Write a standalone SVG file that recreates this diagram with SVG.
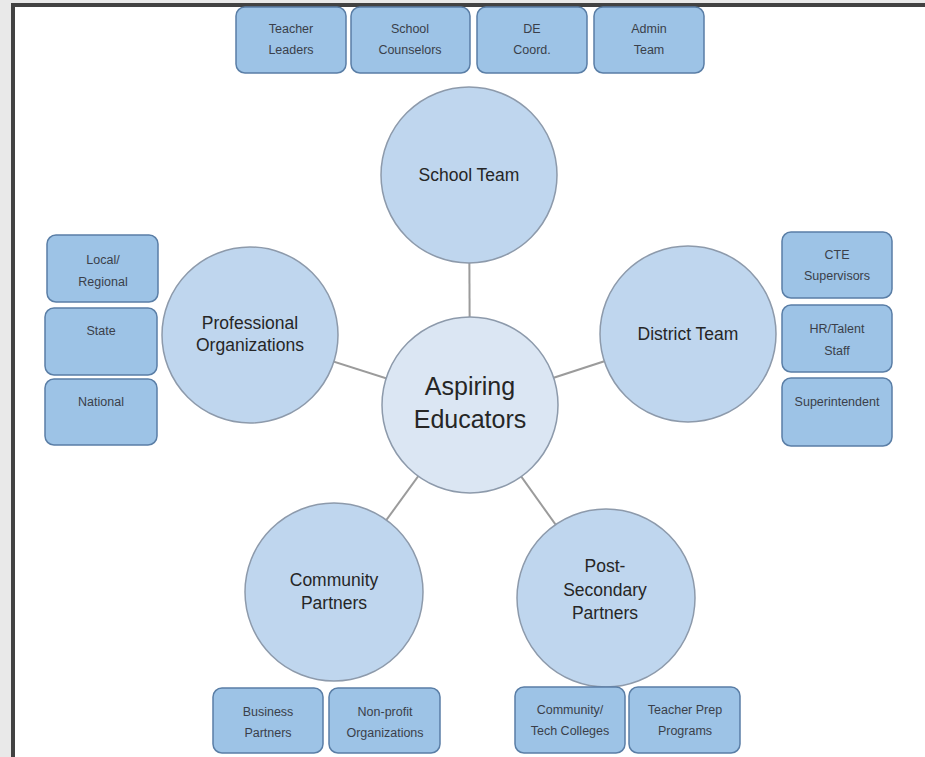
<svg xmlns="http://www.w3.org/2000/svg" width="925" height="757" viewBox="0 0 925 757">
<style>
.big{fill:#bfd6ee;stroke:#8d9aab;stroke-width:1.5}
.core{fill:#dbe6f3;stroke:#8d9aab;stroke-width:1.5}
.box{fill:#9dc3e6;stroke:#5a7ea6;stroke-width:1.5}
.lbl{font-family:"Liberation Sans","Open Sans",sans-serif;fill:#262626;text-anchor:middle}
.c{font-size:17.5px}
.s{font-size:12.5px;fill:#3a3f4a}
.con line{stroke:#9b9b9b;stroke-width:2}
</style>
<rect x="0" y="0" width="925" height="757" fill="#e9e9e9"/>
<rect x="13" y="5" width="930" height="770" fill="#ffffff" stroke="#424242" stroke-width="4"/>
<g id="connectors" class="con">
<line x1="470" y1="405" x2="469" y2="175"/>
<line x1="470" y1="405" x2="250" y2="335"/>
<line x1="470" y1="405" x2="688" y2="334"/>
<line x1="470" y1="405" x2="334" y2="592"/>
<line x1="470" y1="405" x2="606" y2="595"/>
</g>
<g id="center"><circle class="core" cx="470" cy="405" r="88"/>
<text class="lbl" x="470" y="395" font-size="25">Aspiring</text>
<text class="lbl" x="470" y="428" font-size="25">Educators</text></g>
<g id="school-team"><circle class="big" cx="469" cy="175" r="88"/>
<text class="lbl c" x="469" y="181">School Team</text></g>
<g id="professional"><circle class="big" cx="250" cy="335" r="88"/>
<text class="lbl c" x="250" y="329">Professional</text>
<text class="lbl c" x="250" y="351">Organizations</text></g>
<g id="district"><circle class="big" cx="688" cy="334" r="88"/>
<text class="lbl c" x="688" y="340">District Team</text></g>
<g id="community"><circle class="big" cx="334" cy="592" r="89"/>
<text class="lbl c" x="334" y="586">Community</text>
<text class="lbl c" x="334" y="609">Partners</text></g>
<g id="postsecondary"><circle class="big" cx="606" cy="598" r="89"/>
<text class="lbl c" x="605" y="572">Post-</text>
<text class="lbl c" x="605" y="596">Secondary</text>
<text class="lbl c" x="605" y="619">Partners</text></g>
<g id="teacher-leaders"><rect class="box" x="236" y="7" width="110" height="66" rx="9"/>
<text class="lbl s" x="291" y="33">Teacher</text><text class="lbl s" x="291" y="54">Leaders</text></g>
<g id="school-counselors"><rect class="box" x="351" y="7" width="119" height="66" rx="9"/>
<text class="lbl s" x="410" y="33">School</text><text class="lbl s" x="410" y="54">Counselors</text></g>
<g id="de-coord"><rect class="box" x="477" y="7" width="110" height="66" rx="9"/>
<text class="lbl s" x="532" y="33">DE</text><text class="lbl s" x="532" y="54">Coord.</text></g>
<g id="admin-team"><rect class="box" x="594" y="7" width="110" height="66" rx="9"/>
<text class="lbl s" x="649" y="33">Admin</text><text class="lbl s" x="649" y="54">Team</text></g>
<g id="local-regional"><rect class="box" x="47" y="235" width="111" height="67" rx="9"/>
<text class="lbl s" x="103" y="264">Local/</text><text class="lbl s" x="103" y="286">Regional</text></g>
<g id="state"><rect class="box" x="45" y="308" width="112" height="67" rx="9"/>
<text class="lbl s" x="101" y="335">State</text></g>
<g id="national"><rect class="box" x="45" y="379" width="112" height="66" rx="9"/>
<text class="lbl s" x="101" y="406">National</text></g>
<g id="cte-supervisors"><rect class="box" x="782" y="232" width="110" height="66" rx="9"/>
<text class="lbl s" x="837" y="259">CTE</text><text class="lbl s" x="837" y="280">Supervisors</text></g>
<g id="hr-talent"><rect class="box" x="782" y="305" width="110" height="67" rx="9"/>
<text class="lbl s" x="837" y="333">HR/Talent</text><text class="lbl s" x="837" y="355">Staff</text></g>
<g id="superintendent"><rect class="box" x="782" y="378" width="110" height="68" rx="9"/>
<text class="lbl s" x="837" y="406" font-size="11.5">Superintendent</text></g>
<g id="business-partners"><rect class="box" x="213" y="688" width="110" height="65" rx="9"/>
<text class="lbl s" x="268" y="716">Business</text><text class="lbl s" x="268" y="737">Partners</text></g>
<g id="non-profit"><rect class="box" x="329" y="688" width="111" height="65" rx="9"/>
<text class="lbl s" x="385" y="716">Non-profit</text><text class="lbl s" x="385" y="737">Organizations</text></g>
<g id="community-tech"><rect class="box" x="515" y="687" width="110" height="66" rx="9"/>
<text class="lbl s" x="570" y="714">Community/</text><text class="lbl s" x="570" y="735">Tech Colleges</text></g>
<g id="teacher-prep"><rect class="box" x="629" y="687" width="111" height="66" rx="9"/>
<text class="lbl s" x="685" y="714">Teacher Prep</text><text class="lbl s" x="685" y="735">Programs</text></g>
</svg>
